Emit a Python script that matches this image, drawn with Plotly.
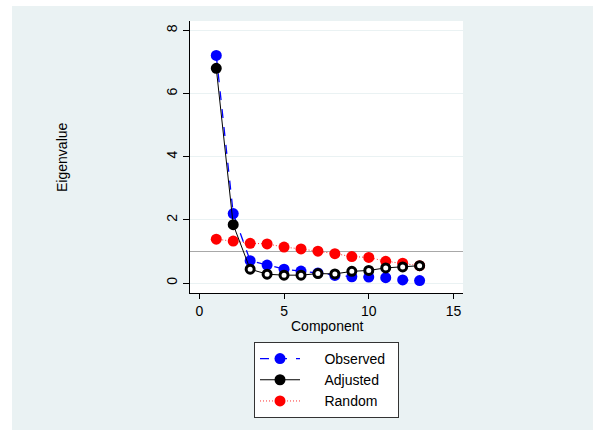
import plotly.graph_objects as go

# Parallel-analysis scree data
components = list(range(1, 14))
observed = [7.21, 2.20, 0.71, 0.57, 0.44, 0.38, 0.32, 0.24, 0.20, 0.19, 0.17, 0.10, 0.08]
adjusted = [6.80, 1.85, 0.44, 0.28, 0.25, 0.25, 0.30, 0.29, 0.37, 0.40, 0.48, 0.51, 0.55]
random_ev = [1.39, 1.33, 1.26, 1.24, 1.14, 1.08, 1.01, 0.93, 0.84, 0.81, 0.69, 0.63, 0.55]
series_names = ["Observed", "Adjusted", "Random"]
x_ticks = [0, 5, 10, 15]
y_ticks = [0, 2, 4, 6, 8]
retain_cutoff = 1

FONT = "Arial, Liberation Sans, sans-serif"
PANEL = "#eaf2f3"
NBSP = "\u00a0"


def legend_label(name):
    # pad legend entries so the key box gets some breathing room
    return NBSP * 5 + name + NBSP * 2


# adjusted eigenvalues above the cutoff are solid, the rest hollow
adj_fill = ["black" if v > retain_cutoff else "white" for v in adjusted]

fig = go.Figure()
fig.add_trace(go.Scatter(
    x=components, y=random_ev, name=legend_label(series_names[2]),
    mode="lines+markers",
    line=dict(color="#ff3030", width=1, dash="1px,2px"),
    marker=dict(color="#ff0000", size=11), legendrank=3))
fig.add_trace(go.Scatter(
    x=components, y=observed, name=legend_label(series_names[0]),
    mode="lines+markers",
    line=dict(color="#0000ff", width=1.3, dash="dash"),
    marker=dict(color="#0000ff", size=11), legendrank=1))
fig.add_trace(go.Scatter(
    x=components, y=adjusted, name=legend_label(series_names[1]),
    mode="lines+markers",
    line=dict(color="black", width=1),
    marker=dict(color=adj_fill, size=8, line=dict(color="black", width=3)),
    legendrank=2))

shapes = [
    # outer graph region
    dict(type="rect", xref="paper", yref="paper", x0=-0.652, x1=1.476,
         y0=-0.52, y1=1.0547, fillcolor=PANEL, line=dict(width=0), layer="below"),
    # plot region
    dict(type="rect", xref="paper", yref="paper", x0=0, x1=1, y0=0, y1=1,
         fillcolor="white", line=dict(width=0), layer="below"),
    # retention cutoff
    dict(type="line", xref="paper", yref="y", x0=0, x1=1,
         y0=retain_cutoff, y1=retain_cutoff,
         line=dict(color="#a8a8a8", width=1.2), layer="below"),
]

fig.update_layout(
    width=600, height=430,
    margin=dict(l=190, r=137, t=21, b=135),
    paper_bgcolor="white", plot_bgcolor="white",
    font=dict(family=FONT, size=14, color="black"),
    shapes=shapes,
    showlegend=True,
    legend=dict(x=0.5, xanchor="center", y=-0.18, yanchor="top",
                bgcolor="white", bordercolor="#333333", borderwidth=1,
                font=dict(family=FONT, size=14), itemwidth=40,
                traceorder="normal"),
    annotations=[
        dict(text="Component", xref="paper", yref="paper", x=0.5, y=-0.12,
             xanchor="center", yanchor="middle", showarrow=False,
             font=dict(family=FONT, size=14)),
        dict(text="Eigenvalue", xref="paper", yref="paper", x=-0.469, y=0.5,
             xanchor="center", yanchor="middle", showarrow=False, textangle=-90,
             font=dict(family=FONT, size=14)),
    ],
)

fig.update_xaxes(
    range=[-0.55, 15.56], tickvals=x_ticks, showgrid=False, zeroline=False,
    showline=True, linecolor="black", linewidth=1,
    ticks="outside", ticklen=5, tickcolor="black",
    tickfont=dict(family=FONT, size=14))
fig.update_yaxes(
    range=[-0.315, 8.30], tickvals=y_ticks, tickangle=-90,
    showgrid=True, gridcolor=PANEL, gridwidth=1, zeroline=False,
    showline=True, linecolor="black", linewidth=1,
    ticks="outside", ticklen=6, tickcolor="black",
    tickfont=dict(family=FONT, size=14))

fig.write_html("out.html")
